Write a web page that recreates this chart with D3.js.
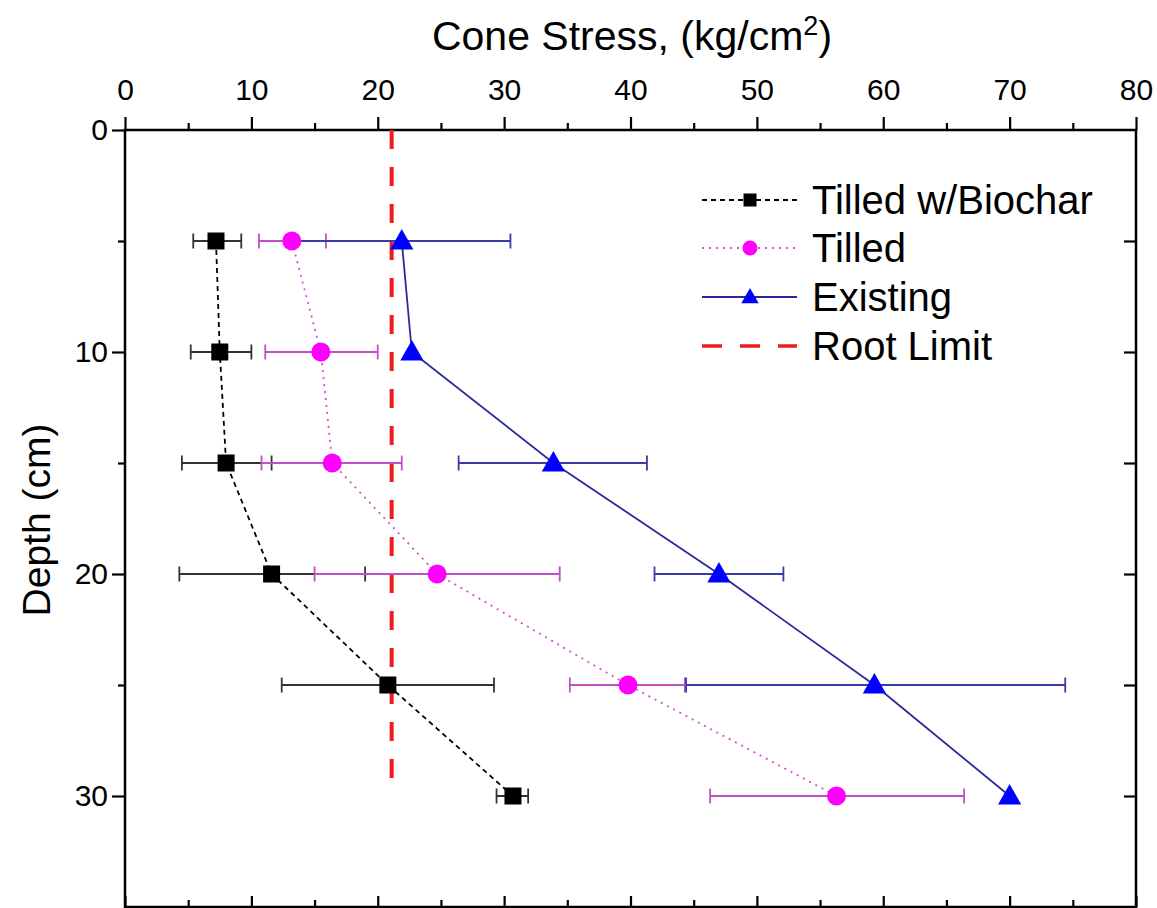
<!DOCTYPE html>
<html><head><meta charset="utf-8">
<script src="https://cdn.jsdelivr.net/npm/d3@7"></script>
<style>body{margin:0;background:#fff}svg{display:block}text{font-family:"Liberation Sans",Arial,sans-serif}</style>
</head><body>
<script>
const depths = [5, 10, 15, 20, 25, 30];
const biochar = [7.2, 7.5, 8.0, 11.6, 20.8, 30.7];
const biocharLo = [5.4, 5.2, 4.5, 4.3, 12.4, 29.4];
const biocharHi = [9.2, 10.0, 11.6, 19.0, 29.2, 31.9];
const tilled = [13.2, 15.5, 16.4, 24.7, 39.8, 56.3];
const tilledLo = [10.6, 11.1, 10.8, 15.0, 35.2, 46.3];
const tilledHi = [15.9, 20.0, 21.9, 34.4, 44.3, 66.4];
const existing = [21.9, 22.7, 33.9, 47.0, 59.3, 70.0];
const existingLo = [13.2, 22.7, 26.4, 41.9, 44.4, 70.0];
const existingHi = [30.5, 22.7, 41.3, 52.1, 74.4, 70.0];
const rootLimit = 21.1;
const rootDepthRange = [0, 29.2];
const xTicks = [0, 10, 20, 30, 40, 50, 60, 70, 80];
const yTicks = [0, 10, 20, 30];
const seriesNames = ["Tilled w/Biochar", "Tilled", "Existing", "Root Limit"];

const W = 1157, H = 908;
const m = {left: 125, right: 1136, top: 130, bottom: 907};
const svg = d3.select("body").append("svg").attr("width", W).attr("height", H);
const x = d3.scaleLinear().domain([0, 80]).range([m.left, m.right]);
const y = d3.scaleLinear().domain([0, 35]).range([m.top, m.bottom]);

// frame
svg.append("rect").attr("x", m.left).attr("y", m.top).attr("width", m.right - m.left).attr("height", m.bottom - m.top)
  .attr("fill", "none").attr("stroke", "#000").attr("stroke-width", 2.5);

// top axis (labels)
const minorX = d3.range(5, 80, 10);
const topAx = svg.append("g").attr("transform", `translate(0,${m.top})`)
  .call(d3.axisTop(x).tickValues(xTicks).tickSize(13).tickPadding(17).tickFormat(d3.format("d")));
topAx.select(".domain").remove();
topAx.selectAll("line").attr("stroke-width", 2.2);
topAx.selectAll("text").attr("font-size", 30).attr("fill", "#000");
svg.append("g").attr("transform", `translate(0,${m.top})`)
  .call(d3.axisTop(x).tickValues(minorX).tickSize(7).tickFormat(""))
  .call(g => { g.select(".domain").remove(); g.selectAll("line").attr("stroke-width", 2.2); });
// bottom axis inward ticks
svg.append("g").attr("transform", `translate(0,${m.bottom})`)
  .call(d3.axisBottom(x).tickValues(xTicks).tickSize(-11).tickFormat(""))
  .call(g => { g.select(".domain").remove(); g.selectAll("line").attr("stroke-width", 2.2); });
svg.append("g").attr("transform", `translate(0,${m.bottom})`)
  .call(d3.axisBottom(x).tickValues(minorX).tickSize(-7).tickFormat(""))
  .call(g => { g.select(".domain").remove(); g.selectAll("line").attr("stroke-width", 2.2); });

// left axis
const minorY = [5, 15, 25];
const leftAx = svg.append("g").attr("transform", `translate(${m.left},0)`)
  .call(d3.axisLeft(y).tickValues(yTicks).tickSize(13).tickPadding(4).tickFormat(d3.format("d")));
leftAx.select(".domain").remove();
leftAx.selectAll("line").attr("stroke-width", 2.2);
leftAx.selectAll("text").attr("font-size", 30).attr("fill", "#000");
svg.append("g").attr("transform", `translate(${m.left},0)`)
  .call(d3.axisLeft(y).tickValues(minorY).tickSize(7).tickFormat(""))
  .call(g => { g.select(".domain").remove(); g.selectAll("line").attr("stroke-width", 2.2); });
// right axis inward ticks
svg.append("g").attr("transform", `translate(${m.right},0)`)
  .call(d3.axisRight(y).tickValues(d3.range(5, 35, 5)).tickSize(-12).tickFormat(""))
  .call(g => { g.select(".domain").remove(); g.selectAll("line").attr("stroke-width", 2.2); });

// titles
const t = svg.append("text").attr("x", 632).attr("y", 50).attr("text-anchor", "middle").attr("font-size", 41).attr("fill", "#000");
t.append("tspan").text("Cone Stress, (kg/cm");
t.append("tspan").attr("font-size", 27).attr("dy", -15).text("2");
t.append("tspan").attr("dy", 15).text(")");
svg.append("text").attr("transform", `translate(50,520) rotate(-90)`).attr("text-anchor", "middle")
  .attr("font-size", 39).attr("fill", "#000").text("Depth (cm)");

// root limit
svg.append("line").attr("x1", x(rootLimit)).attr("x2", x(rootLimit)).attr("y1", y(rootDepthRange[0])).attr("y2", y(rootDepthRange[1]))
  .attr("stroke", "#ee1c1c").attr("stroke-width", 4).attr("stroke-dasharray", "19 18");

const series = [
  {name: seriesNames[0], v: biochar, lo: biocharLo, hi: biocharHi, line: "#000", err: "#333", mark: "#000", dash: "5 4", shape: "square"},
  {name: seriesNames[1], v: tilled, lo: tilledLo, hi: tilledHi, line: "#d050d0", err: "#c050c8", mark: "#ff00ff", dash: "2 5", shape: "circle"},
  {name: seriesNames[2], v: existing, lo: existingLo, hi: existingHi, line: "#2a2a9a", err: "#3a3aa8", mark: "#0000ff", dash: null, shape: "triangle"}
];

function drawMarker(g, shape, cx, cy, s, color) {
  if (shape === "square") g.append("rect").attr("x", cx - s/2).attr("y", cy - s/2).attr("width", s).attr("height", s).attr("fill", color);
  else if (shape === "circle") g.append("circle").attr("cx", cx).attr("cy", cy).attr("r", s/2).attr("fill", color);
  else g.append("path").attr("d", `M${cx},${cy - s*0.6}L${cx + s*0.58},${cy + s*0.42}L${cx - s*0.58},${cy + s*0.42}Z`).attr("fill", color);
}

const lineGen = d3.line().x(d => x(d[0])).y(d => y(d[1]));
series.forEach(s => {
  const g = svg.append("g");
  g.append("path").attr("d", lineGen(s.v.map((v, i) => [v, depths[i]]))).attr("fill", "none")
    .attr("stroke", s.line).attr("stroke-width", 1.8).attr("stroke-dasharray", s.dash);
  s.v.forEach((v, i) => {
    if (s.hi[i] - s.lo[i] > 0.01) {
      const yy = y(depths[i]);
      g.append("line").attr("x1", x(s.lo[i])).attr("x2", x(s.hi[i])).attr("y1", yy).attr("y2", yy).attr("stroke", s.err).attr("stroke-width", 1.8);
      [s.lo[i], s.hi[i]].forEach(e => g.append("line").attr("x1", x(e)).attr("x2", x(e)).attr("y1", yy - 7.5).attr("y2", yy + 7.5).attr("stroke", s.err).attr("stroke-width", 1.8));
    }
  });
});
series.forEach(s => {
  const g = svg.append("g");
  s.v.forEach((v, i) => drawMarker(g, s.shape, x(v), y(depths[i]), s.shape === "square" ? 17 : (s.shape === "circle" ? 19 : 20), s.mark));
});

// legend
const legY = [200, 248, 297, 346];
const lg = svg.append("g");
series.forEach((s, i) => {
  lg.append("line").attr("x1", 702).attr("x2", 797).attr("y1", legY[i]).attr("y2", legY[i]).attr("stroke", s.line).attr("stroke-width", 1.8).attr("stroke-dasharray", s.dash);
  drawMarker(lg, s.shape, 750, legY[i], s.shape === "square" ? 13 : 15, s.mark);
});
lg.append("line").attr("x1", 702).attr("x2", 797).attr("y1", legY[3]).attr("y2", legY[3]).attr("stroke", "#ee1c1c").attr("stroke-width", 3.5).attr("stroke-dasharray", "20 18");
seriesNames.forEach((n, i) => lg.append("text").attr("x", 812).attr("y", legY[i]).attr("dy", "0.36em").attr("font-size", 40).attr("fill", "#000").text(n));
</script>
</body></html>
